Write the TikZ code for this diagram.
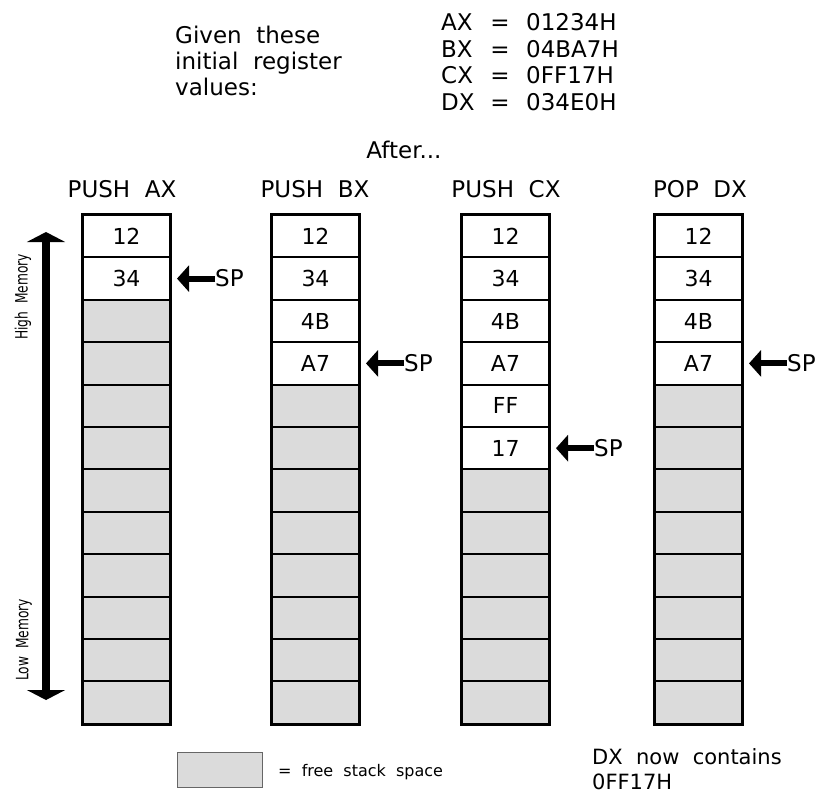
\documentclass[tikz,border=0pt]{standalone}
\usepackage{fontspec}
\usepackage{graphicx}
\setmainfont{DejaVu Sans}
\usetikzlibrary{arrows.meta}
\begin{document}
\begin{tikzpicture}[x=1pt,y=-1pt,
  txt/.style={font=\fontsize{23}{26}\selectfont, inner sep=0pt},
  cell/.style={draw, line width=2pt, minimum width=87pt, minimum height=42.4pt, inner sep=0pt, font=\fontsize{22}{26}\selectfont, anchor=north west, fill=white},
  freecell/.style={cell, fill=black!14},
  sparrow/.style={line width=6pt, -{Triangle[length=12pt,width=26pt]}},
  memlabel/.style={rotate=90, font=\fontsize{17}{19}\selectfont, inner sep=0pt},
]
\useasboundingbox[fill=white] (0,0) rectangle (818,798);

% introductory text
\node[txt, anchor=base west] (g1) at (175,43) {Given\ \ these};
\node[txt, anchor=base west] (g2) at (175,69) {initial\ \ register};
\node[txt, anchor=base west] (g3) at (175,95) {values:};

\foreach \r/\v/\yy [count=\k] in {AX/01234H/30, BX/04BA7H/57, CX/0FF17H/83, DX/034E0H/110}{
  \node[txt, anchor=base west] (rn\k) at (441,\yy) {\r};
  \node[txt, anchor=base] (re\k) at (500,\yy) {=};
  \node[txt, anchor=base west] (rv\k) at (526,\yy) {\v};
}

\node[txt, anchor=base] (after) at (404,158) {After...};

\node[txt, anchor=base] (h1) at (122,197) {PUSH\ \ AX};
\node[txt, anchor=base] (h2) at (315,197) {PUSH\ \ BX};
\node[txt, anchor=base] (h3) at (506,197) {PUSH\ \ CX};
\node[txt, anchor=base] (h4) at (700,197) {POP\ \ DX};

% stacks
\foreach \c/\x/\vals/\nf in {1/82/{12,34}/2, 2/271/{12,34,4B,A7}/4, 3/461/{12,34,4B,A7,FF,17}/6, 4/654/{12,34,4B,A7}/4}{
  \foreach \v [count=\i] in \vals {
    \node[cell] (c\c-\i) at (\x,{214+(\i-1)*42.4}) {\v};
  }
  \pgfmathtruncatemacro\st{\nf+1}
  \foreach \i in {\st,...,12} {
    \node[freecell] (c\c-\i) at (\x,{214+(\i-1)*42.4}) {};
  }
  \draw[line width=2.6pt] (c\c-1.north west) rectangle (c\c-12.south east);
  \node[txt, anchor=west] (sp\c) at ([xshift=44pt]c\c-\nf.east) {SP};
  \draw[sparrow] (sp\c.west) -- ([xshift=6pt]c\c-\nf.east);
}

% memory direction arrow
\coordinate (hi) at (46,232);
\coordinate (lo) at (46,700);
\draw[line width=8pt, {Triangle[length=10pt,width=38pt]}-{Triangle[length=10pt,width=38pt]}] (hi) -- (lo);
\node[memlabel] (hm) at (23,297) {\scalebox{0.72}[1]{High\ \ Memory}};
\node[memlabel] (lm) at (24,640) {\scalebox{0.72}[1]{Low\ \ Memory}};

% legend
\node[draw=black!60, line width=1pt, fill=black!14, minimum width=85pt, minimum height=35pt, anchor=north west, inner sep=0pt] (leg) at (177,752) {};
\node[font=\fontsize{16}{18}\selectfont, anchor=base west, inner sep=0pt] (legt) at (278,776) {=\ \ free\ \ stack\ \ space};

\node[txt, font=\fontsize{21}{24}\selectfont, anchor=base west] (dx1) at (592,764) {DX\ \ now\ \ contains};
\node[txt, font=\fontsize{21}{24}\selectfont, anchor=base west] (dx2) at (592,789) {0FF17H};
\end{tikzpicture}
\end{document}
